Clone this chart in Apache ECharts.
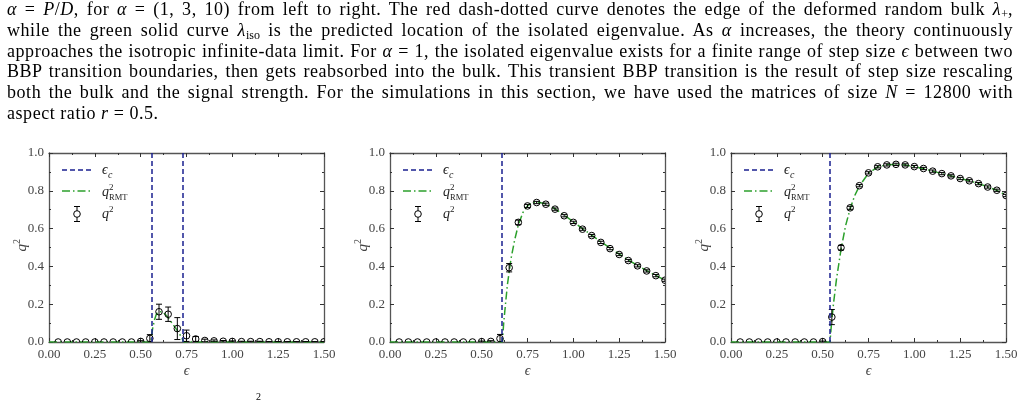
<!DOCTYPE html>
<html>
<head>
<meta charset="utf-8">
<script src="https://cdn.jsdelivr.net/npm/echarts@6/dist/echarts.min.js"></script>
<style>
html,body{margin:0;padding:0;background:#fff;overflow:hidden;}
#chart{position:absolute;left:0;top:0;width:1028px;height:403px;}
#para{position:absolute;left:7px;top:-1px;width:1006px;font-family:'Liberation Serif',serif;font-size:18px;letter-spacing:0.55px;line-height:20.8px;color:#000;z-index:2;pointer-events:none;}
#para .ln{text-align:justify;text-align-last:justify;height:20.8px;overflow:visible;}
#para .last{text-align-last:left;}
#para sub{font-size:12px;line-height:0;vertical-align:-3px;letter-spacing:0;}
</style>
</head>
<body>
<div id="chart"></div>
<div id="para">
<div class="ln"><i>α</i> = <i>P</i>/<i>D</i>, for <i>α</i> = (1, 3, 10) from left to right. The red dash-dotted curve denotes the edge of the deformed random bulk <i>λ</i><sub>+</sub>,</div>
<div class="ln">while the green solid curve <i>λ</i><sub>iso</sub> is the predicted location of the isolated eigenvalue. As <i>α</i> increases, the theory continuously</div>
<div class="ln">approaches the isotropic infinite-data limit. For <i>α</i> = 1, the isolated eigenvalue exists for a finite range of step size <i>ϵ</i> between two</div>
<div class="ln">BBP transition boundaries, then gets reabsorbed into the bulk. This transient BBP transition is the result of step size rescaling</div>
<div class="ln">both the bulk and the signal strength. For the simulations in this section, we have used the matrices of size <i>N</i> = 12800 with</div>
<div class="ln last">aspect ratio <i>r</i> = 0.5.</div>
</div>
<script>
// ---------------- data ----------------
const eps = [0.05,0.10,0.15,0.20,0.25,0.30,0.35,0.40,0.45,0.50,0.55,0.60,0.65,0.70,0.75,0.80,0.85,0.90,0.95,1.00,1.05,1.10,1.15,1.20,1.25,1.30,1.35,1.40,1.45,1.50];

// alpha = 1
const q2A1  = [0,0,0,0,0,0,0,0,0,0.003,0.019,0.160,0.147,0.071,0.033,0.016,0.008,0.006,0.004,0.003,0.002,0.002,0.002,0.001,0.001,0.001,0.001,0.001,0.001,0.001];
const errA1 = [0,0,0,0,0,0,0,0,0,0.004,0.020,0.040,0.038,0.058,0.030,0.013,0.007,0.005,0.004,0.003,0.002,0.002,0.002,0.001,0.001,0.001,0.001,0.001,0.001,0.001];
const rmtEpsA1 = [0,0.555,0.565,0.575,0.585,0.595,0.605,0.62,0.64,0.66,0.68,0.70,0.72,0.735,1.50];
const rmtQ2A1  = [0,0,0.07,0.115,0.145,0.16,0.165,0.16,0.14,0.115,0.088,0.06,0.03,0,0];
const epscA1 = [0.555,0.735];

// alpha = 3
const q2A3  = [0,0,0,0,0,0,0,0,0,0.002,0.003,0.018,0.393,0.633,0.720,0.738,0.729,0.703,0.668,0.633,0.597,0.563,0.527,0.494,0.463,0.431,0.403,0.376,0.351,0.327];
const errA3 = [0,0,0,0,0,0,0,0,0,0.003,0.004,0.022,0.022,0.012,0.008,0.006,0.006,0.006,0.006,0.006,0.006,0.006,0.006,0.006,0.006,0.006,0.006,0.006,0.006,0.006];
const rmtEpsA3 = [0,0.613,0.62,0.63,0.64,0.65,0.66,0.68,0.70,0.725,0.75,0.775,0.80,0.85,0.90,0.95,1.00,1.05,1.10,1.15,1.20,1.25,1.30,1.35,1.40,1.45,1.50];
const rmtQ2A3  = [0,0,0.10,0.20,0.30,0.37,0.44,0.54,0.62,0.685,0.72,0.737,0.741,0.731,0.705,0.671,0.636,0.600,0.565,0.530,0.497,0.465,0.434,0.405,0.378,0.352,0.327];
const epscA3 = [0.613];

// alpha = 10
const q2A10  = [0,0,0,0,0,0,0,0,0,0.002,0.132,0.499,0.710,0.827,0.895,0.927,0.937,0.940,0.937,0.928,0.918,0.904,0.891,0.879,0.865,0.853,0.838,0.820,0.803,0.775];
const errA10 = [0,0,0,0,0,0,0,0,0,0.003,0.040,0.012,0.008,0.006,0.006,0.006,0.006,0.006,0.006,0.006,0.006,0.006,0.006,0.006,0.006,0.006,0.006,0.006,0.006,0.006];
const rmtEpsA10 = [0,0.54,0.545,0.55,0.56,0.575,0.60,0.625,0.65,0.675,0.70,0.75,0.80,0.85,0.90,0.95,1.00,1.05,1.10,1.15,1.20,1.25,1.30,1.35,1.40,1.45,1.50];
const rmtQ2A10  = [0,0,0.06,0.12,0.21,0.33,0.49,0.615,0.705,0.775,0.825,0.893,0.926,0.938,0.940,0.936,0.928,0.917,0.904,0.891,0.879,0.866,0.853,0.838,0.821,0.802,0.777];
const epscA10 = [0.54];

const xTickStep = 0.25, yTickStep = 0.2;

const panels = [
  {q2:q2A1, err:errA1, rmtE:rmtEpsA1, rmtQ:rmtQ2A1, epsc:epscA1},
  {q2:q2A3, err:errA3, rmtE:rmtEpsA3, rmtQ:rmtQ2A3, epsc:epscA3},
  {q2:q2A10, err:errA10, rmtE:rmtEpsA10, rmtQ:rmtQ2A10, epsc:epscA10}
];

// ---------------- layout / style ----------------
const GL = [49, 390, 731], GT = 153, GW = 275, GH = 189;
const SERIF = "'Liberation Serif', serif";
const BLUE = '#1a2090', GREEN = '#2ca02c';
const AX = '#555', TK = '#333', LB = '#444';

function xAx(i, top){
  return {
    gridIndex:i, type:'value', min:0, max:1.5, interval:xTickStep,
    position: top ? 'top' : 'bottom',
    axisLine:{show:true, onZero:false, lineStyle:{color:AX, width:1.3}},
    axisTick:{show:true, inside:true, length:4, lineStyle:{color:TK, width:1}},
    minorTick:{show:true, splitNumber:2, length:2, lineStyle:{color:TK, width:1}},
    splitLine:{show:false}, minorSplitLine:{show:false},
    axisLabel: top ? {show:false} : {show:true, margin:6, color:LB, fontFamily:SERIF, fontSize:13, formatter:v=>v.toFixed(2)},
    name: top ? '' : 'ϵ', nameLocation:'middle', nameGap:22,
    nameTextStyle:{color:LB, fontFamily:SERIF, fontStyle:'italic', fontSize:14}
  };
}
function yAx(i, right){
  return {
    gridIndex:i, type:'value', min:0, max:1.0, interval:yTickStep,
    position: right ? 'right' : 'left',
    axisLine:{show:true, onZero:false, lineStyle:{color:AX, width:1.3}},
    axisTick:{show:true, inside:true, length:4, lineStyle:{color:TK, width:1}},
    minorTick:{show:true, splitNumber:2, length:2, lineStyle:{color:TK, width:1}},
    splitLine:{show:false}, minorSplitLine:{show:false},
    axisLabel: right ? {show:false} : {show:true, margin:5, color:LB, fontFamily:SERIF, fontSize:13, formatter:v=>v.toFixed(1)}
  };
}

const grids = [], xAxes = [], yAxes = [], series = [], graphics = [];
panels.forEach((p, i) => {
  grids.push({left:GL[i], top:GT, width:GW, height:GH});
  xAxes.push(xAx(i,false), xAx(i,true));
  yAxes.push(yAx(i,false), yAx(i,true));
  series.push({
    type:'line', xAxisIndex:2*i, yAxisIndex:2*i, z:2,
    data: p.rmtE.map((e,k)=>[e, p.rmtQ[k]]),
    showSymbol:false, symbol:'none', clip:true, silent:true,
    lineStyle:{color:GREEN, width:1.5, type:[8,3,1.5,3]},
    markLine:{silent:true, symbol:['none','none'], label:{show:false},
      lineStyle:{color:BLUE, width:1.5, type:[5,3]},
      data: p.epsc.map(v=>({xAxis:v}))}
  });
  series.push({
    type:'custom', xAxisIndex:2*i, yAxisIndex:2*i, z:3, clip:true, silent:true,
    data: eps.map((e,k)=>[e, p.q2[k], p.err[k]]),
    renderItem:(params, api)=>{
      const x = api.value(0), y = api.value(1), e = api.value(2);
      const c = api.coord([x,y]), t = api.coord([x,y+e]), b = api.coord([x,y-e]);
      const st = {stroke:'#000', lineWidth:1, fill:'none'};
      const ch = [];
      if (e > 0) {
        ch.push({type:'line', shape:{x1:c[0],y1:t[1],x2:c[0],y2:b[1]}, style:st});
        ch.push({type:'line', shape:{x1:c[0]-3,y1:t[1],x2:c[0]+3,y2:t[1]}, style:st});
        ch.push({type:'line', shape:{x1:c[0]-3,y1:b[1],x2:c[0]+3,y2:b[1]}, style:st});
      }
      ch.push({type:'circle', shape:{cx:c[0], cy:c[1], r:3.3}, style:{stroke:'#000', lineWidth:1, fill:'rgba(0,0,0,0)'}});
      return {type:'group', children:ch};
    }
  });

  // legend (drawn as graphic, top-left inside each panel)
  const L = GL[i];
  const it = {fontFamily:SERIF, fontStyle:'italic', fill:'#222'};
  graphics.push(
    {type:'line', shape:{x1:L+13,y1:170,x2:L+42,y2:170}, style:{stroke:BLUE, lineWidth:1.5, lineDash:[5,3]}},
    {type:'text', x:L+53, y:177, style:Object.assign({text:'ϵ', fontSize:14, textVerticalAlign:'bottom'}, it)},
    {type:'text', x:L+59, y:180, style:Object.assign({text:'c', fontSize:10, textVerticalAlign:'bottom'}, it)},
    {type:'line', shape:{x1:L+13,y1:191,x2:L+42,y2:191}, style:{stroke:GREEN, lineWidth:1.5, lineDash:[8,3,1.5,3]}},
    {type:'text', x:L+53, y:199, style:Object.assign({text:'q', fontSize:14, textVerticalAlign:'bottom'}, it)},
    {type:'text', x:L+60, y:192, style:{text:'2', fontSize:9, fontFamily:SERIF, fill:'#222', textVerticalAlign:'bottom'}},
    {type:'text', x:L+60, y:202, style:{text:'RMT', fontSize:8.5, fontFamily:SERIF, fill:'#222', textVerticalAlign:'bottom'}},
    {type:'line', shape:{x1:L+28,y1:206.5,x2:L+28,y2:221.5}, style:{stroke:'#000', lineWidth:1}},
    {type:'line', shape:{x1:L+25,y1:206.5,x2:L+31,y2:206.5}, style:{stroke:'#000', lineWidth:1}},
    {type:'line', shape:{x1:L+25,y1:221.5,x2:L+31,y2:221.5}, style:{stroke:'#000', lineWidth:1}},
    {type:'circle', shape:{cx:L+28, cy:214, r:3.3}, style:{stroke:'#000', lineWidth:1, fill:'#fff'}},
    {type:'text', x:L+53, y:221, style:Object.assign({text:'q', fontSize:14, textVerticalAlign:'bottom'}, it)},
    {type:'text', x:L+60, y:214, style:{text:'2', fontSize:9, fontFamily:SERIF, fill:'#222', textVerticalAlign:'bottom'}},
    // y-axis name q^2 (rotated)
    {type:'group', x:L-27, y:GT+GH/2+4, rotation:Math.PI/2, children:[
      {type:'text', x:0, y:0, style:{text:'q', fontSize:15, fontFamily:SERIF, fontStyle:'italic', fill:LB, textVerticalAlign:'middle'}},
      {type:'text', x:7.5, y:-5, style:{text:'2', fontSize:10, fontFamily:SERIF, fill:LB, textVerticalAlign:'middle'}}
    ]}
  );
});
// fragment of caption below (cut off by the page edge)
graphics.push({type:'text', x:256, y:392, style:{text:'2', fontSize:10, fontFamily:SERIF, fill:'#000'}});

const chart = echarts.init(document.getElementById('chart'), null, {renderer:'canvas'});
chart.setOption({
  backgroundColor:'#fff',
  animation:false,
  grid:grids, xAxis:xAxes, yAxis:yAxes, series:series,
  graphic:graphics
});
</script>
</body>
</html>
